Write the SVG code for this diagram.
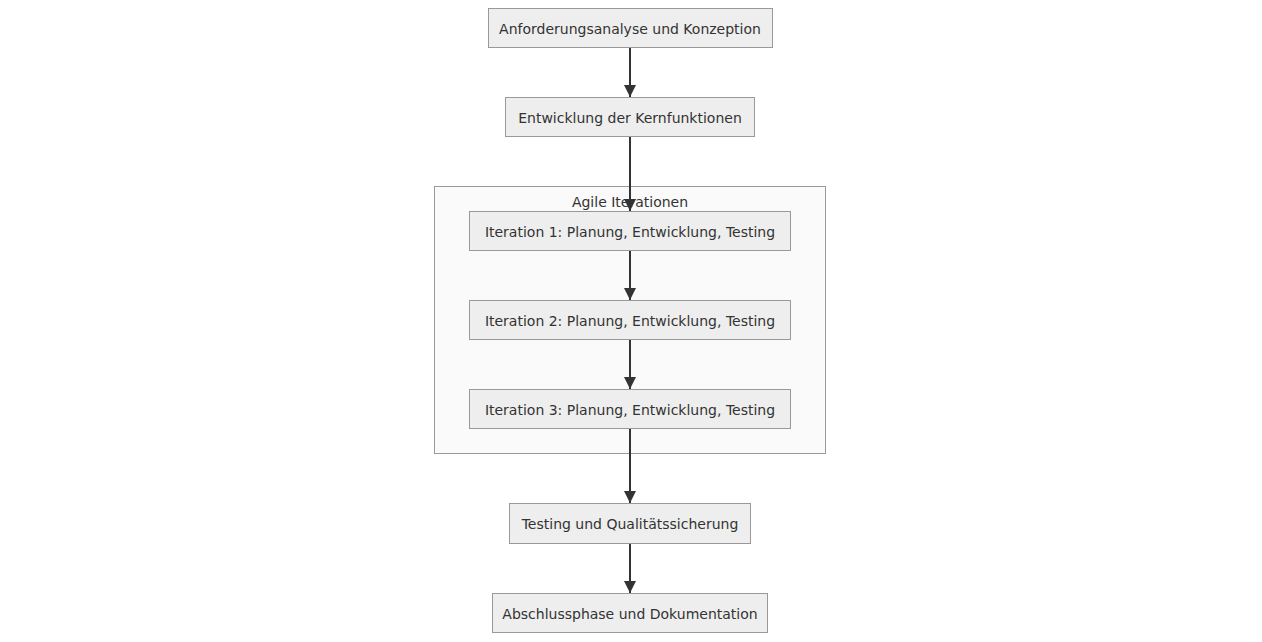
<svg xmlns="http://www.w3.org/2000/svg" width="1262" height="642" viewBox="0 0 1262 642">
<style>
.node rect{fill:#eeeeee;stroke:#999999;stroke-width:1}
.cluster rect{fill:#fafafa;stroke:#999999;stroke-width:1}
text{font-family:"DejaVu Sans","Liberation Sans",sans-serif;font-size:14px;fill:#333333;text-anchor:middle;dominant-baseline:central}
.edge{stroke:#333333;stroke-width:2;fill:none}
</style>
<defs>
<marker id="arrow" markerUnits="userSpaceOnUse" markerWidth="12" markerHeight="12" refX="12" refY="6" orient="auto">
<path d="M0,0 L12,6 L0,12 Z" fill="#333333"/>
</marker>
</defs>
<rect width="1262" height="642" fill="#ffffff"/>
<g id="cluster-agile" class="cluster">
<rect x="434.5" y="186.5" width="391" height="267"/>
<text x="630" y="202">Agile Iterationen</text>
</g>
<g id="edges">
<path class="edge" d="M630,47 L630,97" marker-end="url(#arrow)"/>
<path class="edge" d="M630,136 L630,211" marker-end="url(#arrow)"/>
<path class="edge" d="M630,250 L630,300" marker-end="url(#arrow)"/>
<path class="edge" d="M630,339 L630,389" marker-end="url(#arrow)"/>
<path class="edge" d="M630,428 L630,503" marker-end="url(#arrow)"/>
<path class="edge" d="M630,543 L630,593" marker-end="url(#arrow)"/>
</g>
<g id="node-a" class="node">
<rect x="488.5" y="8.5" width="284" height="39"/>
<text x="630" y="29">Anforderungsanalyse und Konzeption</text>
</g>
<g id="node-b" class="node">
<rect x="505.5" y="97.5" width="249" height="39"/>
<text x="630" y="118">Entwicklung der Kernfunktionen</text>
</g>
<g id="node-i1" class="node">
<rect x="469.5" y="211.5" width="321" height="39"/>
<text x="630" y="232">Iteration 1: Planung, Entwicklung, Testing</text>
</g>
<g id="node-i2" class="node">
<rect x="469.5" y="300.5" width="321" height="39"/>
<text x="630" y="321">Iteration 2: Planung, Entwicklung, Testing</text>
</g>
<g id="node-i3" class="node">
<rect x="469.5" y="389.5" width="321" height="39"/>
<text x="630" y="410">Iteration 3: Planung, Entwicklung, Testing</text>
</g>
<g id="node-t" class="node">
<rect x="509.5" y="503.5" width="241" height="40"/>
<text x="630" y="524">Testing und Qualitätssicherung</text>
</g>
<g id="node-e" class="node">
<rect x="492.5" y="593.5" width="275" height="39"/>
<text x="630" y="614">Abschlussphase und Dokumentation</text>
</g>
</svg>
